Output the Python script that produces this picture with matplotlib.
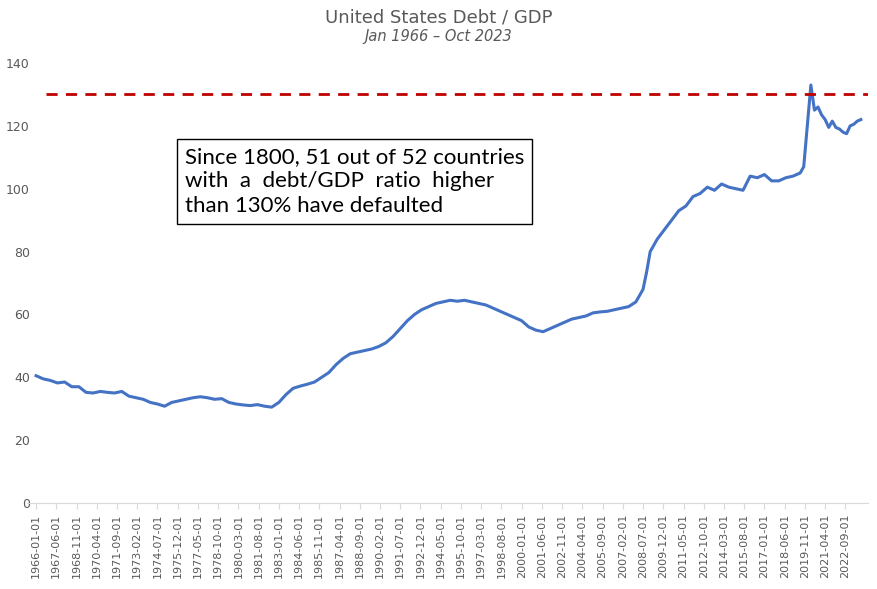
import numpy as np
import matplotlib.pyplot as plt

dates = ['1966-01', '1966-07', '1967-01', '1967-07', '1968-01', '1968-07', '1969-01', '1969-07',
         '1970-01', '1970-07', '1971-01', '1971-07', '1972-01', '1972-07', '1973-01', '1973-07',
         '1974-01', '1974-07', '1975-01', '1975-07', '1976-01', '1976-07', '1977-01', '1977-07',
         '1978-01', '1978-07', '1979-01', '1979-07', '1980-01', '1980-07', '1981-01', '1981-07',
         '1982-01', '1982-07', '1983-01', '1983-07', '1984-01', '1984-07', '1985-01', '1985-07',
         '1986-01', '1986-07', '1987-01', '1987-07', '1988-01', '1988-07', '1989-01', '1989-07',
         '1990-01', '1990-07', '1991-01', '1991-07', '1992-01', '1992-07', '1993-01', '1993-07',
         '1994-01', '1994-07', '1995-01', '1995-07', '1996-01', '1996-07', '1997-01', '1997-07',
         '1998-01', '1998-07', '1999-01', '1999-07', '2000-01', '2000-07', '2001-01', '2001-07',
         '2002-01', '2002-07', '2003-01', '2003-07', '2004-01', '2004-07', '2005-01', '2005-07',
         '2006-01', '2006-07', '2007-01', '2007-07', '2008-01', '2008-07', '2008-10', '2009-01',
         '2009-07', '2010-01', '2010-07', '2011-01', '2011-07', '2012-01', '2012-07', '2013-01',
         '2013-07', '2014-01', '2014-07', '2015-01', '2015-07', '2016-01', '2016-07', '2017-01',
         '2017-07', '2018-01', '2018-07', '2019-01', '2019-07', '2019-10', '2020-04', '2020-07',
         '2020-10', '2021-01', '2021-04', '2021-07', '2021-10', '2022-01', '2022-04', '2022-07',
         '2022-10', '2023-01', '2023-04', '2023-07', '2023-10']
values = [40.5, 39.5, 39.0, 38.2, 38.5, 37.0, 37.0, 35.2, 35.0, 35.5, 35.2, 35.0, 35.5, 34.0,
          33.5, 33.0, 32.0, 31.5, 30.8, 32.0, 32.5, 33.0, 33.5, 33.8, 33.5, 33.0, 33.2, 32.0,
          31.5, 31.2, 31.0, 31.3, 30.8, 30.5, 32.0, 34.5, 36.5, 37.2, 37.8, 38.5, 40.0, 41.5,
          44.0, 46.0, 47.5, 48.0, 48.5, 49.0, 49.8, 51.0, 53.0, 55.5, 58.0, 60.0, 61.5, 62.5,
          63.5, 64.0, 64.5, 64.2, 64.5, 64.0, 63.5, 63.0, 62.0, 61.0, 60.0, 59.0, 58.0, 56.0,
          55.0, 54.5, 55.5, 56.5, 57.5, 58.5, 59.0, 59.5, 60.5, 60.8, 61.0, 61.5, 62.0, 62.5,
          64.0, 68.0, 73.5, 80.0, 84.0, 87.0, 90.0, 93.0, 94.5, 97.5, 98.5, 100.5, 99.5, 101.5,
          100.5, 100.0, 99.5, 104.0, 103.5, 104.5, 102.5, 102.5, 103.5, 104.0, 105.0, 107.0,
          133.0, 125.0, 126.0, 123.5, 122.0, 119.5, 121.5, 119.5, 119.0, 118.0, 117.5, 120.0,
          120.5, 121.5, 122.0]

tick_labels = []
m = 0
while m < 694:
    tick_labels.append('%d-%02d-01' % (1966 + m // 12, m % 12 + 1))
    m += 17

x = [(int(d[:4]) - 1966) * 12 + int(d[5:]) - 1 for d in dates]

fig = plt.figure(figsize=(8.77, 5.89), dpi=100)
ax = fig.add_axes([27 / 877, 86 / 589, 841 / 877, 440 / 589])
ax.plot(x, values, color='#4472C4', linewidth=2.2)
ax.axhline(130, xmin=0.022, color='#C00000', linestyle=(0, (4, 3)), linewidth=2)

ax.set_ylim(0, 140)
ax.set_yticks(range(0, 141, 20))
ax.set_xlim(-7.6, 699)
ax.set_xticks(range(0, 694, 17))
ax.set_xticklabels(tick_labels, rotation=90, fontsize=8, color='#595959')
ax.tick_params(axis='y', length=0, labelsize=9, labelcolor='#595959', pad=-2)
ax.tick_params(axis='x', length=4, color='#d9d9d9')
for s in ['top', 'right', 'left']:
    ax.spines[s].set_visible(False)
ax.spines['bottom'].set_color('#d9d9d9')

fig.text(0.5, 0.985, 'United States Debt / GDP', ha='center', va='top', fontsize=13, color='#595959')
fig.text(0.5, 0.95, 'Jan 1966 \u2013 Oct 2023', ha='center', va='top', fontsize=10.5,
         style='italic', color='#595959')

ax.text(0.188, 0.81, 'Since 1800, 51 out of 52 countries\nwith  a  debt/GDP  ratio  higher\nthan 130% have defaulted',
        transform=ax.transAxes, ha='left', va='top', fontsize=16, family='Lato', linespacing=1.3,
        bbox=dict(boxstyle='square,pad=0.35', facecolor='white', edgecolor='black', linewidth=1))

fig.savefig('out.png')
